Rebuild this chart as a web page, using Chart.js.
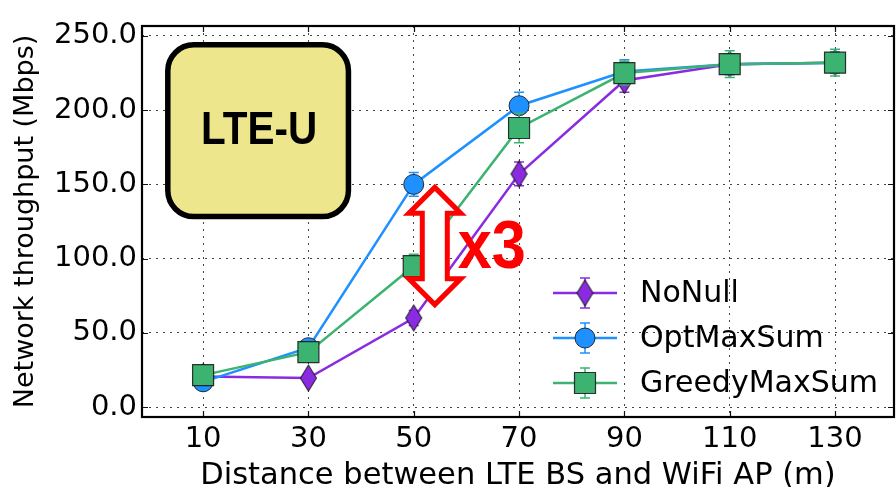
<!DOCTYPE html>
<html>
<head>
<meta charset="utf-8">
<script src="https://cdn.jsdelivr.net/npm/chart.js@4.4.1/dist/chart.umd.min.js"></script>
<style>
  html, body { margin: 0; padding: 0; background: #ffffff; }
  #wrap { width: 896px; height: 487px; }
</style>
</head>
<body>
<div id="wrap"><canvas id="c" width="896" height="487"></canvas></div>
<script>
// Distance between the LTE base station and the WiFi access point (m)
const distances = [10, 30, 50, 70, 90, 110, 130];

// Network throughput (Mbps) per scheme, with the half-width of each error bar
const noNull          = [20.5, 19.5, 60, 157, 220, 231, 232];
const noNullErr       = [3, 3, 5, 8, 8, 7, 7];
const optMaxSum       = [17, 40, 150, 203, 226, 231, 232];
const optMaxSumErr    = [4, 4, 8, 9, 8, 7, 7];
const greedyMaxSum    = [21.5, 37, 95, 188, 225, 231, 232];
const greedyMaxSumErr = [5, 5, 8, 10, 8, 9, 9];

const seriesNames = ['NoNull', 'OptMaxSum', 'GreedyMaxSum'];
const xTickValues = [10, 30, 50, 70, 90, 110, 130];
const yTickValues = [0, 50, 100, 150, 200, 250];

// Gap highlighted at 50 m: OptMaxSum vs NoNull
const gapLabel = 'x3';
const gapX = 54;
const gapTop = 148;
const gapBottom = 69;

const COLORS = ['#8a2be2', '#1e90ff', '#3cb371'];
const EDGE = 'rgba(20,20,20,0.85)';
const FONT = '"DejaVu Sans", sans-serif';

// Thin diamond marker (matplotlib style 'd')
function makeDiamond(color) {
  const w = 19, h = 28;
  const cv = document.createElement('canvas');
  cv.width = w; cv.height = h;
  const g = cv.getContext('2d');
  g.beginPath();
  g.moveTo(w / 2, 1); g.lineTo(w - 1.5, h / 2); g.lineTo(w / 2, h - 1); g.lineTo(1.5, h / 2);
  g.closePath();
  g.fillStyle = color; g.fill();
  g.lineWidth = 1.1; g.strokeStyle = EDGE; g.stroke();
  return cv;
}
const diamond = makeDiamond(COLORS[0]);

const errors = [noNullErr, optMaxSumErr, greedyMaxSumErr];

function drawMarker(ctx, style, x, y) {
  ctx.save();
  if (style === 'diamond') {
    ctx.drawImage(diamond, x - diamond.width / 2, y - diamond.height / 2);
  } else if (style === 'circle') {
    ctx.beginPath(); ctx.arc(x, y, 10, 0, Math.PI * 2);
    ctx.fillStyle = COLORS[1]; ctx.fill();
    ctx.lineWidth = 1; ctx.strokeStyle = EDGE; ctx.stroke();
  } else {
    ctx.beginPath(); ctx.rect(x - 10.5, y - 10.5, 21, 21);
    ctx.fillStyle = COLORS[2]; ctx.fill();
    ctx.lineWidth = 1.2; ctx.strokeStyle = EDGE; ctx.stroke();
  }
  ctx.restore();
}

// Error bars under each series' markers
const errorBars = {
  id: 'errorBars',
  beforeDatasetDraw(chart, args) {
    const { ctx, scales: { y } } = chart;
    const i = args.index;
    const ds = chart.data.datasets[i];
    const err = errors[i];
    ctx.save();
    ctx.strokeStyle = COLORS[i];
    ctx.lineWidth = 1.5;
    args.meta.data.forEach((pt, k) => {
      const v = ds.data[k].y;
      const t = y.getPixelForValue(v + err[k]);
      const b = y.getPixelForValue(v - err[k]);
      ctx.beginPath();
      ctx.moveTo(pt.x, t); ctx.lineTo(pt.x, b);
      ctx.moveTo(pt.x - 5, t); ctx.lineTo(pt.x + 5, t);
      ctx.moveTo(pt.x - 5, b); ctx.lineTo(pt.x + 5, b);
      ctx.stroke();
    });
    ctx.restore();
  }
};

// Axes frame with inward tick marks
const frame = {
  id: 'frame',
  afterDatasetsDraw(chart) {
    const { ctx, chartArea: a, scales: { x, y } } = chart;
    ctx.save();
    ctx.strokeStyle = '#111';
    ctx.lineWidth = 1.2;
    ctx.beginPath();
    xTickValues.forEach(v => {
      const px = Math.round(x.getPixelForValue(v)) + 0.5;
      ctx.moveTo(px, a.bottom); ctx.lineTo(px, a.bottom - 6);
      ctx.moveTo(px, a.top); ctx.lineTo(px, a.top + 6);
    });
    yTickValues.forEach(v => {
      const py = Math.round(y.getPixelForValue(v)) + 0.5;
      ctx.moveTo(a.left, py); ctx.lineTo(a.left + 6, py);
      ctx.moveTo(a.right, py); ctx.lineTo(a.right - 6, py);
    });
    ctx.stroke();
    ctx.lineWidth = 2.2;
    ctx.strokeStyle = '#000';
    ctx.strokeRect(a.left, a.top, a.right - a.left, a.bottom - a.top);
    ctx.restore();
  }
};

// "LTE-U" tag, the x3 gap arrow and the legend
const annotations = {
  id: 'annotations',
  afterDraw(chart) {
    const { ctx, chartArea: a, scales: { x, y } } = chart;
    ctx.save();

    // rounded tag
    const bx0 = x.getPixelForValue(3.3), bx1 = x.getPixelForValue(37.6);
    const by0 = y.getPixelForValue(244), by1 = y.getPixelForValue(128.3);
    ctx.beginPath();
    ctx.roundRect(bx0, by0, bx1 - bx0, by1 - by0, 26);
    ctx.fillStyle = '#eee68c';
    ctx.fill();
    ctx.lineWidth = 5.5;
    ctx.strokeStyle = '#000';
    ctx.stroke();
    ctx.fillStyle = '#000';
    ctx.font = 'bold 46px "Liberation Sans", sans-serif';
    ctx.textAlign = 'center';
    ctx.textBaseline = 'middle';
    const tx = (bx0 + bx1) / 2 + 1, ty = (by0 + by1) / 2 + 1;
    ctx.save();
    ctx.translate(tx, ty);
    ctx.scale(0.88, 1);
    ctx.fillText('LTE-U', 0, 0);
    ctx.restore();

    // double-headed outlined arrow
    const cx = x.getPixelForValue(gapX);
    const t = y.getPixelForValue(gapTop), b = y.getPixelForValue(gapBottom);
    const hl = 26, hw = 26, sw = 12.5;
    ctx.beginPath();
    ctx.moveTo(cx, t);
    ctx.lineTo(cx + hw, t + hl); ctx.lineTo(cx + sw, t + hl);
    ctx.lineTo(cx + sw, b - hl); ctx.lineTo(cx + hw, b - hl);
    ctx.lineTo(cx, b);
    ctx.lineTo(cx - hw, b - hl); ctx.lineTo(cx - sw, b - hl);
    ctx.lineTo(cx - sw, t + hl); ctx.lineTo(cx - hw, t + hl);
    ctx.closePath();
    ctx.fillStyle = '#ffffff';
    ctx.fill();
    ctx.lineWidth = 5;
    ctx.lineJoin = 'miter';
    ctx.strokeStyle = '#ff0000';
    ctx.stroke();

    ctx.fillStyle = '#ff0000';
    ctx.font = 'bold 68px "Liberation Sans", sans-serif';
    ctx.textAlign = 'left';
    ctx.textBaseline = 'alphabetic';
    ctx.save();
    ctx.translate(cx + 23, (t + b) / 2 + 22);
    ctx.scale(0.9, 1);
    ctx.fillText(gapLabel, 0, 0);
    ctx.restore();

    // legend, lower right inside the axes
    const styles = ['diamond', 'circle', 'square'];
    ctx.font = '30px ' + FONT;
    ctx.textAlign = 'left';
    ctx.textBaseline = 'middle';
    seriesNames.forEach((name, i) => {
      const ly = a.bottom - 34 - (2 - i) * 45;
      const lx0 = a.right - 341, lx1 = a.right - 277, mx = (lx0 + lx1) / 2;
      ctx.strokeStyle = COLORS[i];
      ctx.lineWidth = 2.5;
      ctx.beginPath(); ctx.moveTo(lx0, ly); ctx.lineTo(lx1, ly); ctx.stroke();
      ctx.lineWidth = 1.5;
      ctx.beginPath();
      ctx.moveTo(mx, ly - 15); ctx.lineTo(mx, ly + 15);
      ctx.moveTo(mx - 5, ly - 15); ctx.lineTo(mx + 5, ly - 15);
      ctx.moveTo(mx - 5, ly + 15); ctx.lineTo(mx + 5, ly + 15);
      ctx.stroke();
      drawMarker(ctx, styles[i], mx, ly);
      ctx.fillStyle = '#000';
      ctx.fillText(name, a.right - 254, ly + 1);
    });
    ctx.restore();
  }
};

function toPoints(ys) { return distances.map((d, i) => ({ x: d, y: ys[i] })); }

new Chart(document.getElementById('c'), {
  type: 'line',
  data: {
    datasets: [
      { label: seriesNames[0], data: toPoints(noNull), borderColor: COLORS[0], backgroundColor: COLORS[0],
        pointStyle: diamond, pointRadius: 12, order: 2 },
      { label: seriesNames[1], data: toPoints(optMaxSum), borderColor: COLORS[1], backgroundColor: COLORS[1],
        pointStyle: 'circle', pointRadius: 10, pointBorderColor: EDGE, pointBorderWidth: 1, order: 1 },
      { label: seriesNames[2], data: toPoints(greedyMaxSum), borderColor: COLORS[2], backgroundColor: COLORS[2],
        pointStyle: 'rect', pointRadius: 14.85, pointBorderColor: EDGE, pointBorderWidth: 1.2, order: 0 }
    ]
  },
  options: {
    responsive: false,
    animation: false,
    devicePixelRatio: 1,
    layout: { autoPadding: false, padding: { top: 26, right: 2, left: 0, bottom: 0 } },
    elements: { line: { borderWidth: 2.5, tension: 0 } },
    plugins: { legend: { display: false }, tooltip: { enabled: false } },
    scales: {
      x: {
        type: 'linear',
        min: -1.6, max: 141.2,
        afterFit(s) { s.height = 70; s.paddingLeft = 0; s.paddingRight = 0; },
        afterBuildTicks(s) { s.ticks = xTickValues.map(v => ({ value: v })); },
        grid: { color: '#444', lineWidth: 1, drawTicks: false },
        border: { display: false, dash: [2, 5] },
        ticks: { color: '#000', font: { family: FONT, size: 29 }, padding: 5, maxRotation: 0, autoSkip: false,
                 callback: v => String(v) },
        title: { display: true, text: 'Distance between LTE BS and WiFi AP (m)', color: '#000',
                 font: { family: FONT, size: 30.5 }, padding: { top: 0, bottom: -7 } }
      },
      y: {
        min: -6.7, max: 256.7,
        afterFit(s) { s.width = 142; s.paddingTop = 0; s.paddingBottom = 0; },
        afterBuildTicks(s) { s.ticks = yTickValues.map(v => ({ value: v })); },
        grid: { color: '#444', lineWidth: 1, drawTicks: false },
        border: { display: false, dash: [2, 5] },
        ticks: { color: '#000', font: { family: FONT, size: 29 }, padding: 5,
                 callback: v => Number(v).toFixed(1) },
        title: { display: true, text: 'Network throughput (Mbps)', color: '#000',
                 font: { family: FONT, size: 27 }, padding: { top: 10, bottom: 0 } }
      }
    }
  },
  plugins: [errorBars, frame, annotations]
});
</script>
</body>
</html>
